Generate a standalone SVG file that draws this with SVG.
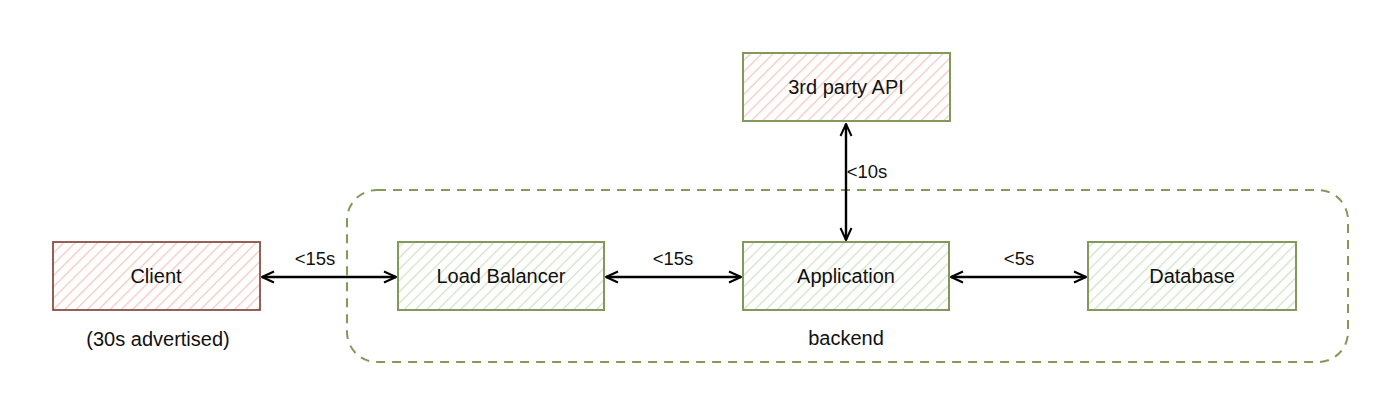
<svg xmlns="http://www.w3.org/2000/svg" width="1400" height="416" viewBox="0 0 1400 416">
<defs>
<pattern id="hatchRed" width="8" height="8" patternUnits="userSpaceOnUse" patternTransform="rotate(45)">
<rect width="8" height="8" fill="#ffffff"/>
<line x1="0" y1="0" x2="0" y2="8" stroke="#f4c9c0" stroke-width="2.6"/>
</pattern>
<pattern id="hatchGreen" width="8" height="8" patternUnits="userSpaceOnUse" patternTransform="rotate(45)">
<rect width="8" height="8" fill="#ffffff"/>
<line x1="0" y1="0" x2="0" y2="8" stroke="#d3e2c8" stroke-width="2.6"/>
</pattern>
<marker id="arr" viewBox="0 0 14 14" refX="13" refY="7" markerWidth="14" markerHeight="14" markerUnits="userSpaceOnUse" orient="auto-start-reverse">
<path d="M1,1.5 L13,7 L1,12.5" fill="none" stroke="#000" stroke-width="2" stroke-linejoin="round"/>
</marker>
</defs>
<style>
.node-red{fill:url(#hatchRed);stroke:#8a4f45;stroke-width:1.8}
.node-red2{fill:url(#hatchRed);stroke:#82995a;stroke-width:2}
.node-green{fill:url(#hatchGreen);stroke:#82995a;stroke-width:2}
.lbl{font-family:"Liberation Sans",Arial,sans-serif;font-size:20px;fill:#111111;text-anchor:middle}
.elbl{font-family:"Liberation Sans",Arial,sans-serif;font-size:18.5px;fill:#111111;text-anchor:middle}
.edge{fill:none;stroke:#000;stroke-width:2.4;marker-start:url(#arr);marker-end:url(#arr)}
.container{fill:none;stroke:#82995a;stroke-width:2;stroke-dasharray:9 7}
</style>
<rect width="1400" height="416" fill="#ffffff"/>
<g id="backend">
<rect class="container" x="347" y="190" width="1001" height="172" rx="30" ry="30"/>
<text class="lbl" x="846" y="345">backend</text>
</g>
<g id="client">
<rect class="node-red" x="53" y="242" width="207" height="68"/>
<text class="lbl" x="156" y="283">Client</text>
<text class="lbl" x="158" y="346">(30s advertised)</text>
</g>
<g id="load-balancer">
<rect class="node-green" x="398" y="242" width="206" height="68"/>
<text class="lbl" x="501" y="283">Load Balancer</text>
</g>
<g id="application">
<rect class="node-green" x="743" y="242" width="206" height="68"/>
<text class="lbl" x="846" y="283">Application</text>
</g>
<g id="database">
<rect class="node-green" x="1088" y="242" width="208" height="68"/>
<text class="lbl" x="1192" y="283">Database</text>
</g>
<g id="third-party-api">
<rect class="node-red2" x="743" y="53" width="207" height="68"/>
<text class="lbl" x="846" y="94">3rd party API</text>
</g>
<g id="connectors">
<line class="edge" x1="262" y1="277" x2="396" y2="277"/>
<text class="elbl" x="315" y="265">&lt;15s</text>
<line class="edge" x1="606" y1="277" x2="741" y2="277"/>
<text class="elbl" x="673" y="265">&lt;15s</text>
<line class="edge" x1="951" y1="277" x2="1086" y2="277"/>
<text class="elbl" x="1019" y="265">&lt;5s</text>
<line class="edge" x1="846" y1="124" x2="846" y2="240"/>
<text class="elbl" x="867" y="178">&lt;10s</text>
</g>
</svg>
